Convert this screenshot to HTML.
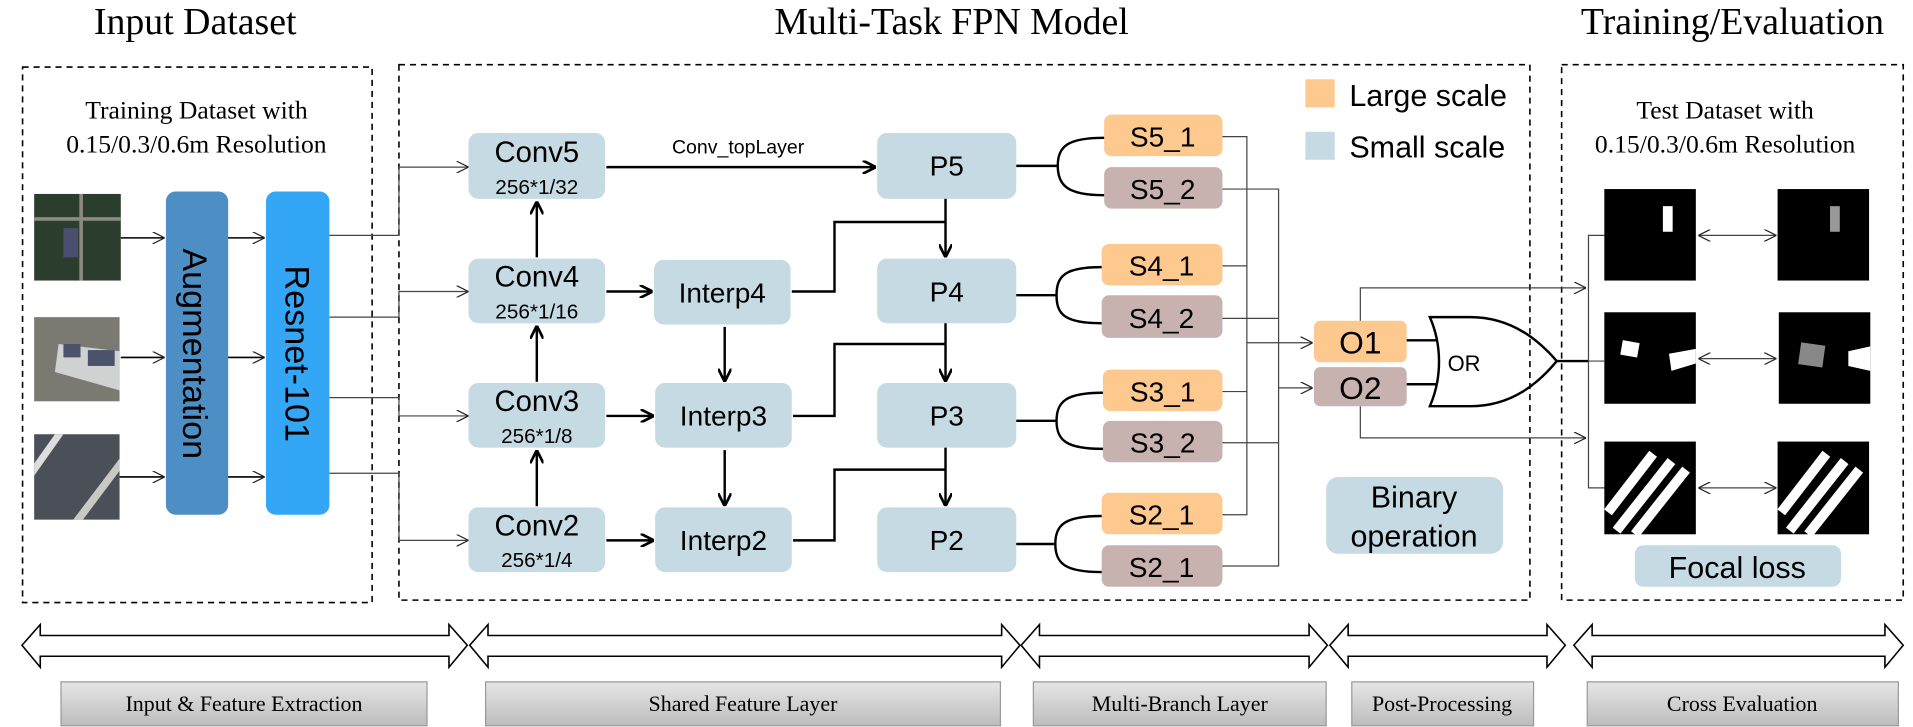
<!DOCTYPE html>
<html><head><meta charset="utf-8"><style>
html,body{margin:0;padding:0;background:#fff}
svg{display:block}
.ser{font-family:"Liberation Serif",serif}
.san{font-family:"Liberation Sans",sans-serif}
</style></head><body>
<svg width="1913" height="727" viewBox="0 0 1568 596" preserveAspectRatio="none" xmlns="http://www.w3.org/2000/svg">
<defs>
<marker id="ao" viewBox="0 0 10 10" refX="10" refY="5" markerWidth="10" markerHeight="10" markerUnits="userSpaceOnUse" orient="auto"><path d="M0,0 L10,5 L0,10" fill="none" stroke="#222" stroke-width="1"/></marker>
<marker id="ab" viewBox="0 0 10 10" refX="10" refY="5" markerWidth="11" markerHeight="11" markerUnits="userSpaceOnUse" orient="auto"><path d="M0,0 L10,5 L0,10" fill="none" stroke="#000" stroke-width="2"/></marker>
<marker id="as" viewBox="0 0 10 10" refX="0" refY="5" markerWidth="10" markerHeight="10" markerUnits="userSpaceOnUse" orient="auto"><path d="M10,0 L0,5 L10,10" fill="none" stroke="#222" stroke-width="1"/></marker>
<linearGradient id="gg" x1="0" y1="0" x2="0" y2="1"><stop offset="0" stop-color="#e6e6e6"/><stop offset="1" stop-color="#bcbcbc"/></linearGradient>
</defs>
<g class="ser" font-size="31" text-anchor="middle" fill="#000">
<text x="160" y="28">Input Dataset</text>
<text x="780" y="28">Multi-Task FPN Model</text>
<text x="1420" y="28">Training/Evaluation</text>
</g>
<g fill="none" stroke="#000" stroke-width="1.3" stroke-dasharray="5,4">
<rect x="18.5" y="55" width="286.5" height="439"/>
<rect x="327" y="53" width="927" height="439"/>
<rect x="1280" y="53" width="280" height="439"/>
</g>
<g class="ser" font-size="21" text-anchor="middle">
<text x="161" y="97">Training Dataset with</text>
<text x="161" y="125">0.15/0.3/0.6m Resolution</text>
<text x="1414" y="97">Test Dataset with</text>
<text x="1414" y="125">0.15/0.3/0.6m Resolution</text>
</g>
<rect x="28" y="159" width="71" height="71" fill="#2b3d2c"/>
<rect x="28" y="178" width="71" height="3" fill="#8a8a80"/><rect x="65" y="159" width="3" height="71" fill="#8a8a80"/>
<rect x="52" y="187" width="12" height="24" fill="#4a4f70"/>
<rect x="28" y="260" width="70" height="69" fill="#7a7a72"/>
<polygon points="48,282 98,288 98,320 45,305" fill="#cfd2d0"/>
<rect x="52" y="282" width="14" height="11" fill="#4b536a"/><rect x="72" y="287" width="22" height="13" fill="#4b536a"/>
<rect x="28" y="356" width="70" height="70" fill="#4b4f58"/>
<polygon points="28,380 45,356 52,356 28,390" fill="#ddd"/>
<polygon points="60,426 98,376 98,386 68,426" fill="#c9c9c4"/>
<rect x="136" y="157" width="51" height="265" rx="8" fill="#4d8fc4"/>
<rect x="218" y="157" width="52" height="265" rx="8" fill="#33a6f5"/>
<text class="san" font-size="28" transform="translate(150,290) rotate(90)" text-anchor="middle">Augmentation</text>
<text class="san" font-size="28" transform="translate(234,290) rotate(90)" text-anchor="middle">Resnet-101</text>
<g stroke="#000" stroke-width="1.3" fill="none" marker-end="url(#ao)">
<line x1="99" y1="195" x2="135" y2="195"/><line x1="99" y1="293" x2="135" y2="293"/><line x1="98" y1="391" x2="135" y2="391"/>
<line x1="187" y1="195" x2="217" y2="195"/><line x1="187" y1="293" x2="217" y2="293"/><line x1="187" y1="391" x2="217" y2="391"/>
</g>
<g stroke="#444" stroke-width="1" fill="none" marker-end="url(#ao)">
<polyline points="270,193 327,193 327,137 384,137"/>
<polyline points="270,260 327,260 327,239 384,239"/>
<polyline points="270,326 327,326 327,341 384,341"/>
<polyline points="270,388 327,388 327,443 384,443"/>
</g>
<g fill="#c5dae3">
<rect x="384" y="109" width="112" height="54" rx="8"/><rect x="384" y="212" width="112" height="53" rx="8"/>
<rect x="384" y="314" width="112" height="53" rx="8"/><rect x="384" y="416" width="112" height="53" rx="8"/>
<rect x="536" y="213" width="112" height="53" rx="8"/><rect x="537" y="314" width="112" height="53" rx="8"/><rect x="537" y="416" width="112" height="53" rx="8"/>
<rect x="719" y="109" width="114" height="54" rx="8"/><rect x="719" y="212" width="114" height="53" rx="8"/>
<rect x="719" y="314" width="114" height="53" rx="8"/><rect x="719" y="416" width="114" height="53" rx="8"/>
<rect x="1087" y="391" width="145" height="63" rx="10"/>
<rect x="1340" y="447" width="169" height="34" rx="7"/>
<rect x="1070" y="108" width="24" height="23"/>
</g>
<rect x="1070" y="65" width="24" height="23" fill="#fdc98f"/>
<g fill="#fdc98f">
<rect x="905" y="94" width="97" height="34" rx="6"/><rect x="903" y="200" width="99" height="34" rx="6"/>
<rect x="904" y="303" width="98" height="34" rx="6"/><rect x="903" y="404" width="99" height="34" rx="6"/>
<rect x="1077" y="263" width="76" height="34" rx="5"/>
</g>
<g fill="#c8b2b0">
<rect x="905" y="137" width="97" height="34" rx="6"/><rect x="903" y="242" width="99" height="35" rx="6"/>
<rect x="904" y="345" width="98" height="34" rx="6"/><rect x="903" y="447" width="99" height="34" rx="6"/>
<rect x="1077" y="301" width="76" height="32" rx="5"/>
</g>
<g class="san" text-anchor="middle" fill="#000">
<g font-size="24">
<text x="440" y="133">Conv5</text><text x="440" y="235">Conv4</text><text x="440" y="337">Conv3</text><text x="440" y="439">Conv2</text>
</g>
<g font-size="17">
<text x="440" y="159">256*1/32</text><text x="440" y="261">256*1/16</text><text x="440" y="363">256*1/8</text><text x="440" y="465">256*1/4</text>
</g>
<g font-size="23">
<text x="592" y="248">Interp4</text><text x="593" y="349">Interp3</text><text x="593" y="451">Interp2</text>
<text x="776" y="144">P5</text><text x="776" y="247">P4</text><text x="776" y="349">P3</text><text x="776" y="451">P2</text>
</g>
<g font-size="23">
<text x="953" y="120">S5_1</text><text x="953" y="163">S5_2</text>
<text x="952" y="226">S4_1</text><text x="952" y="269">S4_2</text>
<text x="953" y="329">S3_1</text><text x="953" y="371">S3_2</text>
<text x="952" y="430">S2_1</text><text x="952" y="473">S2_1</text>
</g>
<g font-size="26"><text x="1115" y="290">O1</text><text x="1115" y="327">O2</text></g>
<text x="605" y="126" font-size="16">Conv_topLayer</text>
<g font-size="25"><text x="1159" y="416">Binary</text><text x="1159" y="448">operation</text><text x="1424" y="474">Focal loss</text></g>
<g font-size="25" text-anchor="start"><text x="1106" y="87">Large scale</text><text x="1106" y="129">Small scale</text></g>
<text x="1200" y="304" font-size="18">OR</text>
</g>
<g stroke="#000" stroke-width="2" fill="none" marker-end="url(#ab)">
<line x1="497" y1="137" x2="718" y2="137"/>
<line x1="440" y1="211" x2="440" y2="165"/><line x1="440" y1="313" x2="440" y2="267"/><line x1="440" y1="415" x2="440" y2="369"/>
<line x1="497" y1="239" x2="535" y2="239"/><line x1="497" y1="341" x2="536" y2="341"/><line x1="497" y1="443" x2="536" y2="443"/>
<line x1="594" y1="268" x2="594" y2="313"/><line x1="594" y1="369" x2="594" y2="415"/>
<line x1="775" y1="163" x2="775" y2="211"/><line x1="775" y1="265" x2="775" y2="313"/><line x1="775" y1="367" x2="775" y2="415"/>
</g>
<g stroke="#000" stroke-width="2" fill="none">
<polyline points="649,239 684,239 684,182 775,182"/>
<polyline points="650,341 684,341 684,282 775,282"/>
<polyline points="650,443 684,443 684,385 775,385"/>
<path d="M833,136 H867 M905,113 C875,113 867,120 867,136 C867,152 875,160 905,160"/>
<path d="M833,242 H866 M903,219 C873,219 866,226 866,242 C866,258 873,265 903,265"/>
<path d="M833,345 H866 M904,322 C874,322 866,329 866,345 C866,361 874,368 904,368"/>
<path d="M833,446 H865 M903,423 C873,423 865,430 865,446 C865,462 873,469 903,469"/>
<line x1="1153" y1="279" x2="1178" y2="279"/><line x1="1153" y1="315" x2="1178" y2="315"/>
<path d="M1172,260 H1205 C1240,260 1262,280 1276,296 C1262,313 1240,333 1205,333 H1172 C1182,310 1182,283 1172,260 Z"/>
<line x1="1276" y1="296" x2="1302" y2="296"/>
</g>
<g stroke="#444" stroke-width="1" fill="none">
<polyline points="1002,112 1022,112 1022,422 1002,422"/>
<line x1="1002" y1="218" x2="1022" y2="218"/><line x1="1002" y1="321" x2="1022" y2="321"/>
<polyline points="1002,155 1048,155 1048,464 1002,464"/>
<line x1="1002" y1="261" x2="1048" y2="261"/><line x1="1002" y1="363" x2="1048" y2="363"/>
<line x1="1022" y1="281" x2="1076" y2="281" marker-end="url(#ao)"/>
<line x1="1048" y1="318" x2="1076" y2="318" marker-end="url(#ao)"/>
<polyline points="1115,263 1115,236 1300,236" marker-end="url(#ao)"/>
<polyline points="1115,333 1115,359 1300,359" marker-end="url(#ao)"/>
<polyline points="1315,193 1302,193 1302,400 1315,400"/>
<line x1="1302" y1="296" x2="1315" y2="296"/>
<line x1="1392" y1="193" x2="1456" y2="193" marker-start="url(#as)" marker-end="url(#ao)"/>
<line x1="1392" y1="294" x2="1456" y2="294" marker-start="url(#as)" marker-end="url(#ao)"/>
<line x1="1392" y1="400" x2="1456" y2="400" marker-start="url(#as)" marker-end="url(#ao)"/>
</g>
<rect x="1315" y="155" width="75" height="75" fill="#000"/><rect x="1363" y="169" width="8" height="21" fill="#fff"/>
<rect x="1457" y="155" width="75" height="75" fill="#000"/><rect x="1500" y="169" width="8" height="21" fill="#999"/>
<rect x="1315" y="256" width="75" height="75" fill="#000"/><rect x="1329" y="280" width="14" height="12" fill="#fff" transform="rotate(10 1336 286)"/><polygon points="1368,290 1390,286 1390,298 1370,304" fill="#fff"/>
<rect x="1458" y="256" width="75" height="75" fill="#000"/><rect x="1475" y="282" width="20" height="18" fill="#888" transform="rotate(8 1485 291)"/><polygon points="1515,288 1533,284 1533,304 1515,300" fill="#fff"/>
<rect x="1315" y="362" width="75" height="76" fill="#000"/>
<g stroke="#fff" stroke-width="8"><line x1="1318" y1="420" x2="1355" y2="372"/><line x1="1325" y1="435" x2="1370" y2="378"/><line x1="1340" y1="438" x2="1382" y2="385"/></g>
<rect x="1457" y="362" width="75" height="76" fill="#000"/>
<g stroke="#fff" stroke-width="8"><line x1="1460" y1="420" x2="1497" y2="372"/><line x1="1467" y1="435" x2="1512" y2="378"/><line x1="1482" y1="438" x2="1524" y2="385"/></g>
<g fill="#fff" stroke="#000" stroke-width="1.3">
<polygon points="18,529 33,512 33,521 368,521 368,512 383,529 368,547 368,538 33,538 33,547"/>
<polygon points="385,529 400,512 400,521 821,521 821,512 836,529 821,547 821,538 400,538 400,547"/>
<polygon points="837,529 852,512 852,521 1073,521 1073,512 1088,529 1073,547 1073,538 852,538 852,547"/>
<polygon points="1090,529 1105,512 1105,521 1268,521 1268,512 1283,529 1268,547 1268,538 1105,538 1105,547"/>
<polygon points="1290,529 1305,512 1305,521 1545,521 1545,512 1560,529 1545,547 1545,538 1305,538 1305,547"/>
</g>
<g fill="url(#gg)" stroke="#999" stroke-width="1">
<rect x="50" y="559" width="300" height="36"/><rect x="398" y="559" width="422" height="36"/>
<rect x="847" y="559" width="240" height="36"/><rect x="1108" y="559" width="149" height="36"/>
<rect x="1301" y="559" width="255" height="36"/>
</g>
<g class="ser" font-size="18" text-anchor="middle">
<text x="200" y="583">Input &amp; Feature Extraction</text><text x="609" y="583">Shared Feature Layer</text>
<text x="967" y="583">Multi-Branch Layer</text><text x="1182" y="583">Post-Processing</text>
<text x="1428" y="583">Cross Evaluation</text>
</g>
</svg>
</body></html>
